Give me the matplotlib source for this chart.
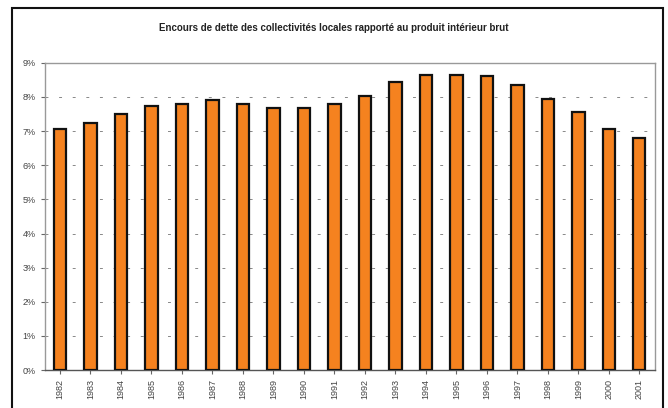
import matplotlib.pyplot as plt
from matplotlib.patches import Rectangle
from matplotlib.ticker import PercentFormatter

# Encours de dette des collectivités locales / PIB (%)
years = [str(y) for y in range(1982, 2002)]
ratio = [7.05, 7.25, 7.5, 7.75, 7.8, 7.9, 7.8, 7.68, 7.68, 7.8,
         8.03, 8.45, 8.65, 8.65, 8.6, 8.35, 7.95, 7.55, 7.05, 6.8]

plt.rcParams['font.family'] = ['Liberation Sans', 'DejaVu Sans']

fig = plt.figure(figsize=(6.68, 4.08), dpi=100)
ax = fig.add_axes([0.067, 0.093, 0.913, 0.753])

ax.bar(years, ratio, width=0.4, color='#f5821f', edgecolor='#111111', linewidth=1.6, zorder=3)

ax.set_ylim(0, 9)
ax.set_xlim(-0.5, len(years) - 0.5)
ax.yaxis.set_major_formatter(PercentFormatter(decimals=0))
ax.set_yticks(range(0, 10))
ax.grid(axis='y', linestyle=(0, (3, 11)), color='#888888', linewidth=0.7, zorder=0)
ax.tick_params(axis='y', labelsize=6.5, length=3, color='#666666', labelcolor='#444444')
ax.tick_params(axis='x', labelsize=6.5, length=3, color='#666666', labelcolor='#444444',
               rotation=90)
for s in ax.spines.values():
    s.set_color('#999999')
    s.set_linewidth(1.0)
ax.spines['bottom'].set_color('#555555')

fig.text(0.5, 0.931, "Encours de dette des collectivités locales rapporté au produit intérieur brut",
         ha='center', va='center', fontsize=7, fontweight='bold', color='#222222')

# outer frame around the whole chart
fig.patches.append(Rectangle((0.018, -0.02), 0.974, 1.0, transform=fig.transFigure,
                             fill=False, edgecolor='#111111', linewidth=1.5))

fig.savefig('out.png', dpi=100)
